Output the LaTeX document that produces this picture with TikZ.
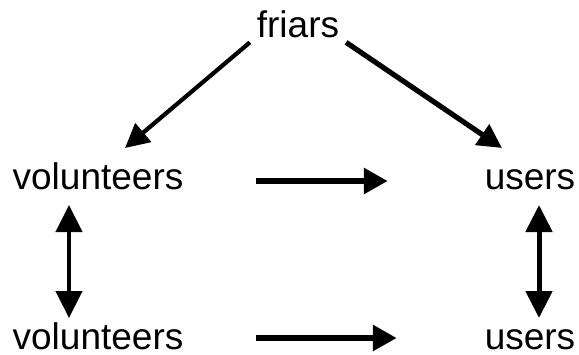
\documentclass[tikz,border=0pt]{standalone}
\usepackage{fontspec}
\setmainfont{Liberation Sans}
\usetikzlibrary{arrows.meta,calc}
\begin{document}
\begin{tikzpicture}[x=1pt,y=-1pt,
  lbl/.style={anchor=base,inner sep=0pt,outer sep=0pt,font=\fontsize{37}{40}\selectfont},
  harr/.style={line width=6pt,-{Triangle[length=24pt,width=25pt]}},
  darr/.style={line width=4.8pt,-{Triangle[length=24pt,width=24pt]}},
  varr/.style={line width=4.5pt,{Triangle[length=27pt,width=26pt]}-{Triangle[length=27pt,width=26pt]}}]
\useasboundingbox (0,0) rectangle (579,354);
\node[lbl] (f) at (298,37) {friars};
\node[lbl] (v1) at (98,189) {volunteers};
\node[lbl] (u1) at (530,189) {users};
\node[lbl] (v2) at (98,349) {volunteers};
\node[lbl] (u2) at (530,349) {users};
\draw[darr,line width=4.2pt] ($(f.south west)+(-7,5)$) -- ($(v1.base)+(27,-41)$);
\draw[darr,line width=5.2pt] ($(f.south east)+(7,5)$) -- ($(u1.base)+(-28,-41)$);
\draw[harr] ($(v1.base east)+(73,-8)$) -- ($(u1.base west)+(-97,-8)$);
\draw[harr] ($(v2.base east)+(73,-11)$) -- ($(u2.base west)+(-88,-11)$);
\draw[varr] ($(v1.base)+(-29,16)$) -- ($(v2.base)+(-29,-31)$);
\draw[varr,line width=5pt] ($(u1.base)+(9,16)$) -- ($(u2.base)+(9,-31)$);
\end{tikzpicture}
\end{document}
